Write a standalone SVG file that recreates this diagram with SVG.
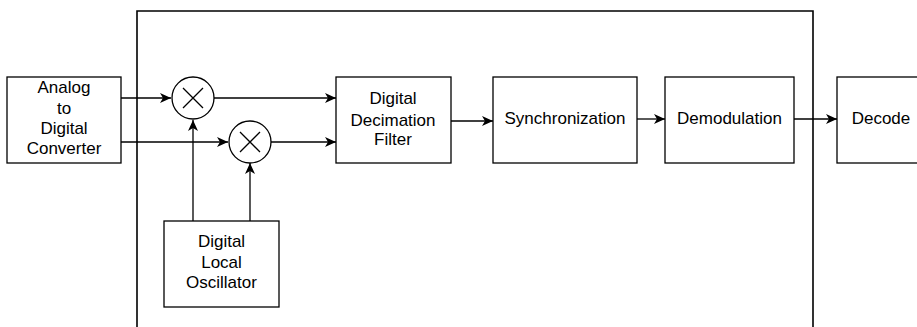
<svg xmlns="http://www.w3.org/2000/svg" width="917" height="327" viewBox="0 0 917 327">
<defs>
<marker id="arr" markerWidth="12" markerHeight="10" refX="11" refY="5" orient="auto" markerUnits="userSpaceOnUse">
<path d="M0,0 L11,5 L0,10 L3,5 Z" fill="#000"/>
</marker>
</defs>
<style>
.box{fill:#fff;stroke:#000;stroke-width:1.3}
.frame{fill:none;stroke:#000;stroke-width:1.6}
.ln{fill:none;stroke:#000;stroke-width:1.3}
.t{font-family:"Liberation Sans",Arial,sans-serif;font-size:17px;fill:#000;text-anchor:middle}
</style>
<rect width="917" height="327" fill="#fff"/>
<path class="frame" d="M137,327 V11 H813 V327"/>
<g id="connectors">
<path class="ln" d="M121,98 H171" marker-end="url(#arr)"/>
<path class="ln" d="M121,142 H228" marker-end="url(#arr)"/>
<path class="ln" d="M214,98 H336" marker-end="url(#arr)"/>
<path class="ln" d="M271,142 H336" marker-end="url(#arr)"/>
<path class="ln" d="M193,221 V120" marker-end="url(#arr)"/>
<path class="ln" d="M250,221 V163" marker-end="url(#arr)"/>
<path class="ln" d="M451,121 H493" marker-end="url(#arr)"/>
<path class="ln" d="M637,119 H665" marker-end="url(#arr)"/>
<path class="ln" d="M794,119 H837" marker-end="url(#arr)"/>
</g>
<g id="adc">
<rect class="box" x="7" y="77" width="114" height="86"/>
<text class="t" x="64" y="93">Analog</text>
<text class="t" x="64" y="114">to</text>
<text class="t" x="64" y="134">Digital</text>
<text class="t" x="64" y="154">Converter</text>
</g>
<g id="mixer1">
<circle class="box" cx="193" cy="98" r="21"/>
<path class="ln" d="M183,88 L203,108 M203,88 L183,108"/>
</g>
<g id="mixer2">
<circle class="box" cx="250" cy="142" r="21"/>
<path class="ln" d="M240,132 L260,152 M260,132 L240,152"/>
</g>
<g id="ddf">
<rect class="box" x="336" y="77" width="115" height="86"/>
<text class="t" x="393" y="104">Digital</text>
<text class="t" x="393" y="126">Decimation</text>
<text class="t" x="393" y="145">Filter</text>
</g>
<g id="sync">
<rect class="box" x="493" y="77" width="144" height="86"/>
<text class="t" x="565" y="124">Synchronization</text>
</g>
<g id="demod">
<rect class="box" x="665" y="77" width="129" height="86"/>
<text class="t" x="729.5" y="124">Demodulation</text>
</g>
<g id="decode">
<rect class="box" x="837" y="77" width="90" height="86"/>
<text class="t" x="881" y="124">Decode</text>
</g>
<g id="osc">
<rect class="box" x="164" y="221" width="115" height="86"/>
<text class="t" x="221.5" y="247">Digital</text>
<text class="t" x="221.5" y="268">Local</text>
<text class="t" x="221.5" y="288">Oscillator</text>
</g>
</svg>
